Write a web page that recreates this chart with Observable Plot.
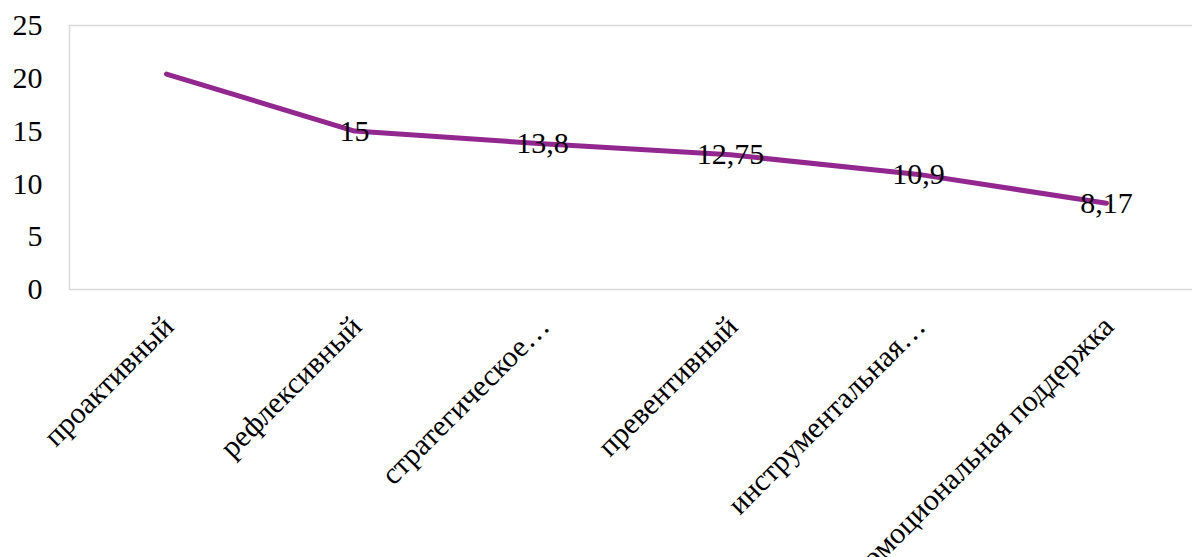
<!DOCTYPE html>
<html>
<head>
<meta charset="utf-8">
<script src="https://cdn.jsdelivr.net/npm/d3@7"></script>
<script src="https://cdn.jsdelivr.net/npm/@observablehq/plot@0.6"></script>
<style>
  html, body { margin: 0; padding: 0; background: #fff; overflow: hidden; }
  #chart { width: 1192px; height: 557px; overflow: hidden; }
</style>
</head>
<body>
<div id="chart"></div>
<script>
const categories = ["проактивный", "рефлексивный", "стратегическое…", "превентивный", "инструментальная…", "эмоциональная поддержка"];
const values = [20.4, 15, 13.8, 12.75, 10.9, 8.17];
const valueLabels = ["", "15", "13,8", "12,75", "10,9", "8,17"];
const yTicks = [0, 5, 10, 15, 20, 25];

const FONT = "'Liberation Serif', 'Times New Roman', Times, serif";
const data = categories.map((c, i) => ({cat: c, value: values[i], label: valueLabels[i]}));

const plot = Plot.plot({
  width: 1192,
  height: 557,
  marginLeft: 69,
  marginRight: 0,
  marginTop: 25,
  marginBottom: 268,
  style: {fontFamily: FONT, fontSize: "30px", color: "#000", background: "#fff", overflow: "hidden", maxWidth: "none"},
  x: {type: "point", domain: categories, range: [163.5, 1108], padding: 0},
  y: {domain: [0, 25]},
  marks: [
    Plot.frame({stroke: "#d9d9d9", strokeWidth: 1.5, insetRight: -40}),
    Plot.axisY({ticks: yTicks, tickSize: 0, tickPadding: 27, label: null, fontSize: 30, fontFamily: FONT}),
    Plot.axisX({tickRotate: -45, tickSize: 0, tickPadding: 32, dx: 2, label: null, fontSize: 30, fontFamily: FONT}),
    Plot.line(data, {x: "cat", y: "value", stroke: "#92278f", strokeWidth: 5, strokeLinecap: "round", strokeLinejoin: "round"}),
    Plot.text(data.filter(d => d.label !== ""), {x: "cat", y: "value", text: "label", fontSize: 30, fill: "#000", fontFamily: FONT})
  ]
});
document.getElementById("chart").appendChild(plot);
</script>
</body>
</html>
